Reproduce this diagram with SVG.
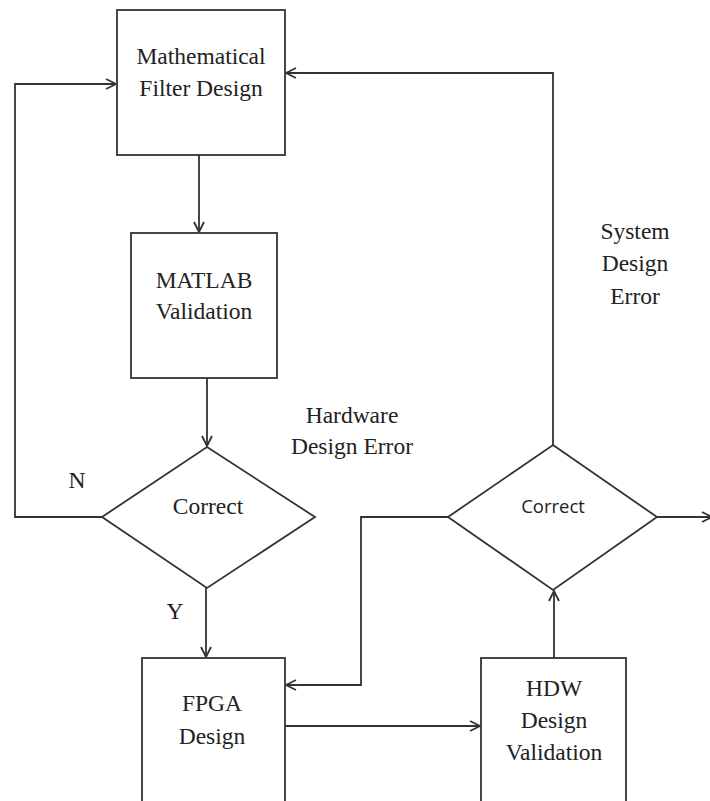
<svg xmlns="http://www.w3.org/2000/svg" width="710" height="801" viewBox="0 0 710 801">
<style>
.box{fill:#fff;stroke:#333;stroke-width:1.8}
.ln{fill:none;stroke:#333;stroke-width:1.8}
.t{font-family:"Liberation Serif","Times New Roman",serif;font-size:23.5px;fill:#222;text-anchor:middle}
.s{font-family:"Open Sans","Liberation Sans",sans-serif;font-size:18.5px;fill:#222;text-anchor:middle}
</style>
<defs>
<marker id="ah" viewBox="0 0 12 12" refX="11" refY="6" markerWidth="12" markerHeight="12" markerUnits="userSpaceOnUse" orient="auto">
<path d="M1,1 L11,6 L1,11" fill="none" stroke="#333" stroke-width="1.8"/>
</marker>
</defs>
<rect width="710" height="801" fill="#fff"/>
<g id="connectors">
<path class="ln" d="M199,155 V232" marker-end="url(#ah)"/>
<path class="ln" d="M207,378 V446" marker-end="url(#ah)"/>
<path class="ln" d="M102,517 H15 V84 H116" marker-end="url(#ah)"/>
<path class="ln" d="M206,588 V657" marker-end="url(#ah)"/>
<path class="ln" d="M448,517 H361 V685 H286" marker-end="url(#ah)"/>
<path class="ln" d="M285,726 H480" marker-end="url(#ah)"/>
<path class="ln" d="M554,658 V591" marker-end="url(#ah)"/>
<path class="ln" d="M553,445 V73 H286" marker-end="url(#ah)"/>
<path class="ln" d="M657,517 H712" marker-end="url(#ah)"/>
</g>
<g id="mathematical-filter-design">
<rect class="box" x="117" y="10" width="168" height="145"/>
<text class="t" x="201" y="64">Mathematical</text>
<text class="t" x="201" y="96">Filter Design</text>
</g>
<g id="matlab-validation">
<rect class="box" x="131" y="233" width="146" height="145"/>
<text class="t" x="204" y="288">MATLAB</text>
<text class="t" x="204" y="319">Validation</text>
</g>
<g id="correct-1">
<polygon class="box" points="207,447 315,517 207,588 102,517"/>
<text class="t" x="208" y="514">Correct</text>
</g>
<g id="fpga-design">
<rect class="box" x="142" y="658" width="143" height="160"/>
<text class="t" x="212" y="711">FPGA</text>
<text class="t" x="212" y="744">Design</text>
</g>
<g id="hdw-design-validation">
<rect class="box" x="481" y="658" width="145" height="160"/>
<text class="t" x="554" y="696">HDW</text>
<text class="t" x="554" y="728">Design</text>
<text class="t" x="554" y="760">Validation</text>
</g>
<g id="correct-2">
<polygon class="box" points="553,445 657,517 553,590 448,517"/>
<text class="s" x="553" y="513">Correct</text>
</g>
<g id="labels">
<text class="t" x="77" y="488">N</text>
<text class="t" x="175" y="619">Y</text>
<text class="t" x="352" y="423">Hardware</text>
<text class="t" x="352" y="454">Design Error</text>
<text class="t" x="635" y="239">System</text>
<text class="t" x="635" y="271">Design</text>
<text class="t" x="635" y="304">Error</text>
</g>
</svg>
